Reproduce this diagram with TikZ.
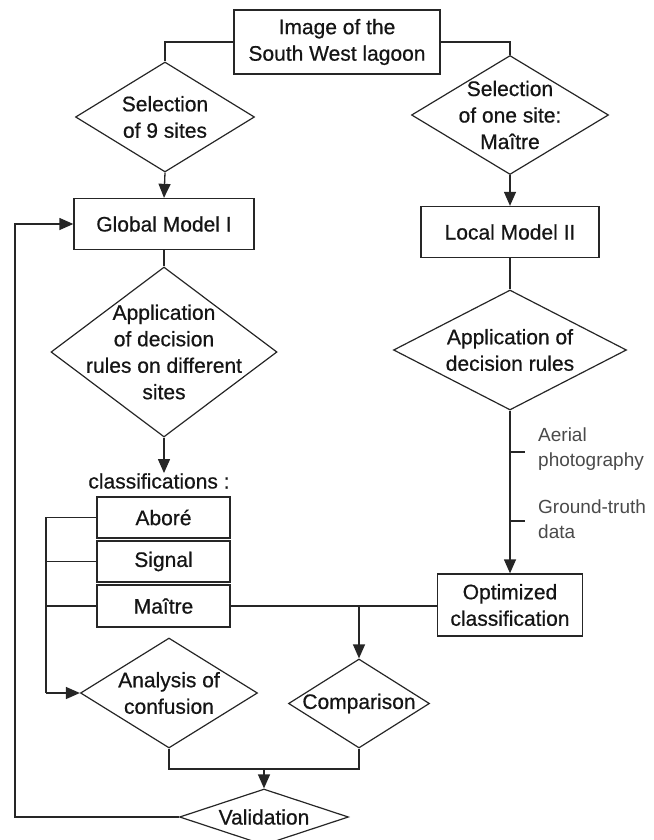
\documentclass[tikz,border=0pt]{standalone}
\usepackage{fontspec}
\setmainfont{Liberation Sans}
\newfontfamily\heavyfont{Liberation Sans}[FakeBold=0.6]
\usetikzlibrary{shapes.geometric,arrows.meta}
\definecolor{ln}{HTML}{262626}
\definecolor{tx}{HTML}{151515}
\definecolor{lt}{HTML}{4A4A4A}
\begin{document}
\begin{tikzpicture}[x=1pt,y=-1pt,
  txt/.style={font=\heavyfont\fontsize{21}{26.5}\selectfont, align=center, text=tx, inner sep=0pt},
  sidetxt/.style={font=\fontsize{19}{25}\selectfont, align=left, text=lt, inner sep=0pt, anchor=west},
  box/.style={draw=ln, line width=1.3pt, rectangle, inner sep=0pt, font=\heavyfont\fontsize{21}{26.5}\selectfont, align=center, text=tx},
  dia/.style={draw=ln, line width=1.2pt, diamond, inner sep=0pt},
  link/.style={draw=ln, line width=1.3pt},
  arr/.style={link, -{Triangle[length=14pt,width=12pt]}}
]
\useasboundingbox (0,0) rectangle (653,840);

% top
\node[box, minimum width=206pt, minimum height=64pt] (top) at (337,42) {Image of the\\South West lagoon};

% left branch
\node[dia, minimum width=179pt, minimum height=110pt,
      label={[txt]center:Selection\\of 9 sites}] (sel9) at (165,117) {};
\node[box, minimum width=180pt, minimum height=51pt] (gm) at (164,224) {Global Model I};
\node[dia, minimum width=226pt, minimum height=170pt,
      label={[txt]center:Application\\of decision\\rules on different\\sites}] (app1) at (164,352) {};
\node[txt] (cls) at (159,481) {classifications :};
\node[box, minimum width=133pt, minimum height=41pt] (abore) at (163.5,517.5) {Abor\'e};
\node[box, minimum width=133pt, minimum height=41pt] (signal) at (163.5,561.5) {Signal};
\node[box, minimum width=133pt, minimum height=42pt] (maitre) at (163.5,606) {Ma\^{\i}tre};

% right branch
\node[dia, minimum width=197pt, minimum height=119pt,
      label={[txt]center:Selection\\of one site:\\Ma\^{\i}tre}] (sel1) at (510,115) {};
\node[box, minimum width=178pt, minimum height=51pt] (lm) at (510,232) {Local Model II};
\node[dia, minimum width=233pt, minimum height=120pt,
      label={[txt]center:Application of\\decision rules}] (app2) at (510,350) {};
\node[box, minimum width=145pt, minimum height=62pt] (opt) at (510,605) {Optimized\\classification};

\coordinate (t1) at (510,452);
\coordinate (t1e) at (525,452);
\coordinate (t2) at (510,521);
\coordinate (t2e) at (525,521);
\node[sidetxt] (aer) at (538,449.5) {Aerial\\photography};
\node[sidetxt] (gtd) at (538,519.5) {Ground-truth\\data};

% bottom
\node[dia, minimum width=177pt, minimum height=110pt,
      label={[txt]center:Analysis of\\confusion}] (ana) at (169,693) {};
\node[dia, minimum width=141pt, minimum height=89pt,
      label={[txt]center:Comparison}] (comp) at (359,703.5) {};
\node[dia, minimum width=169pt, minimum height=56pt,
      label={[txt]center:Validation}] (val) at (264,817) {};

\coordinate (br) at (46,693);
\coordinate (fork) at (359,606);
\coordinate (jl) at (169,769);
\coordinate (jr) at (359,769);
\coordinate (jm) at (264,769);
\coordinate (fb1) at (15,817);
\coordinate (fb2) at (15,224);

% connectors
\draw[link] (top.west) -| (sel9.north);
\draw[link] (top.east) -| (sel1.north);
\draw[arr] (sel9.south) -- (gm.north);
\draw[arr] (sel1.south) -- (lm.north);
\draw[link] (gm.south) -- (app1.north);
\draw[link] (lm.south) -- (app2.north);
\draw[arr] (app1.south) -- (app1.south |- cls.north);
\draw[arr] (app2.south) -- (opt.north);
\draw[link] (t1) -- (t1e);
\draw[link] (t2) -- (t2e);

\draw[link] (abore.west) -| (br);
\draw[link] (signal.west) -- (signal.west -| br);
\draw[link] (maitre.west) -- (maitre.west -| br);
\draw[arr] (br) -- (ana.west);

\draw[link] (maitre.east) -- (opt.west |- maitre.east);
\draw[arr] (fork) -- (comp.north);

\draw[link] (ana.south) -- (jl) -- (jr) -- (comp.south);
\draw[arr] (jm) -- (val.north);

\draw[arr] (val.west) -- (fb1) -- (fb2) -- (gm.west);
\end{tikzpicture}
\end{document}
